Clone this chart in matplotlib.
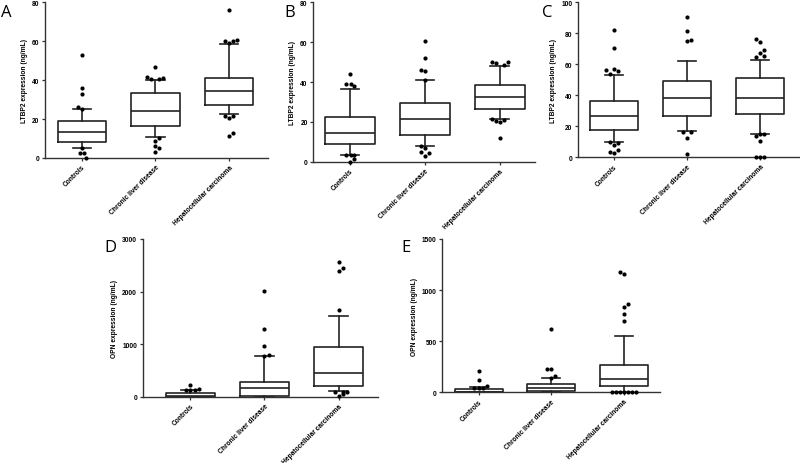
import matplotlib
matplotlib.use("Agg")
import matplotlib.pyplot as plt

plt.rcParams['font.family'] = ['Liberation Sans', 'DejaVu Sans']

categories = ["Controls", "Chronic liver disease", "Hepatocellular carcinoma"]

# ---------------- Panel A : LTBP2 ----------------
A_q1 = [8.4, 16.2, 27.4]
A_med = [13.2, 24.1, 34.2]
A_q3 = [19.1, 33.3, 41.2]
A_lo = [5.1, 10.8, 22.7]
A_hi = [25.3, 40.3, 58.5]
A_out_ctrl = [52.8, 36.1, 32.8, 26.3, 25.3, 5.0, 2.4, 2.4, 0.2]
A_dx_ctrl = [0, 0, 0, -0.055, 0, 0, -0.03, 0.03, 0.06]
A_out_cld = [47.0, 41.5, 40.5, 40.5, 41.2, 10.4, 8.9, 6.3, 5.0, 2.9]
A_dx_cld = [0, -0.11, -0.055, 0.055, 0.11, 0.055, 0, 0, 0.055, 0]
A_out_hcc = [76.1, 60.0, 59.3, 60.0, 60.7, 21.4, 20.3, 21.4, 11.5, 12.8]
A_dx_hcc = [0, -0.05, 0.005, 0.06, 0.115, -0.05, 0.005, 0.06, 0.005, 0.06]

# ---------------- Panel B : LTBP2 ----------------
B_q1 = [8.7, 13.6, 26.4]
B_med = [14.4, 21.3, 32.6]
B_q3 = [22.3, 29.6, 38.7]
B_lo = [3.3, 7.9, 21.3]
B_hi = [36.3, 41.0, 47.9]
B_out_ctrl = [44.0, 38.8, 38.8, 37.8, 3.3, 3.3, 3.3, 1.2, 0.0]
B_dx_ctrl = [0, -0.05, 0.01, 0.06, -0.05, 0.01, 0.06, 0.05, 0]
B_out_cld = [60.4, 52.2, 46.2, 45.4, 41.0, 7.8, 7.0, 4.9, 4.5, 2.7]
B_dx_cld = [0, 0, -0.05, 0, 0, -0.05, 0, -0.05, 0.05, 0]
B_out_hcc = [50.0, 49.4, 48.5, 49.9, 21.4, 20.4, 19.9, 21.1, 11.9]
B_dx_hcc = [-0.11, -0.05, 0.06, 0.115, -0.11, -0.05, 0.005, 0.06, 0]

# ---------------- Panel C : LTBP2 ----------------
C_q1 = [17.8, 26.9, 27.7]
C_med = [26.7, 38.1, 38.5]
C_q3 = [36.6, 49.2, 51.0]
C_lo = [10.1, 17.2, 15.1]
C_hi = [53.1, 62.2, 62.8]
C_out_ctrl = [81.9, 70.3, 56.3, 53.8, 56.8, 55.5, 9.7, 9.2, 8.0, 4.9, 3.4, 2.8]
C_dx_ctrl = [0, 0, -0.11, -0.055, 0, 0.06, -0.055, 0.06, 0, 0.06, -0.055, 0]
C_out_cld = [90.8, 81.7, 75.1, 75.9, 16.6, 16.6, 12.7, 1.9]
C_dx_cld = [0, 0, 0, 0.055, -0.055, 0.055, 0, 0]
C_out_hcc = [76.1, 74.2, 69.2, 67.5, 64.5, 65.6, 13.8, 15.1, 15.1, 10.8, 0.0, 0.0, 0.0]
C_dx_hcc = [-0.055, 0, 0.05, 0, -0.055, 0.05, -0.055, 0, 0.05, 0, -0.055, 0, 0.05]

# ---------------- Panel D : OPN ----------------
D_q1 = [3, 13, 209]
D_med = [6, 159, 457]
D_q3 = [72, 285, 938]
D_lo = [0, 0, 114]
D_hi = [130, 767, 1541]
D_out_ctrl = [222, 128, 122, 135, 150]
D_dx_ctrl = [0, -0.06, 0, 0.06, 0.12]
D_out_cld = [2016, 1294, 964, 799, 767]
D_dx_cld = [0, 0, 0, 0.06, 0]
D_out_hcc = [2555, 2391, 2454, 1655, 89, 89, 80, 19, 44]
D_dx_hcc = [0, 0, 0.055, 0, -0.055, 0.055, 0.11, 0, 0.055]

# ---------------- Panel E : OPN ----------------
E_q1 = [0, 10, 59]
E_med = [2, 39, 130]
E_q3 = [33, 78, 267]
E_lo = [0, 0, 0]
E_hi = [52, 137, 548]
E_out_ctrl = [205, 121, 46, 43, 43, 59]
E_dx_ctrl = [0, 0, -0.06, 0, 0.055, 0.11]
E_out_cld = [620, 225, 225, 143, 157]
E_dx_cld = [0, -0.055, 0, 0, 0.055]
E_out_hcc = [1181, 1161, 868, 832, 770, 701, 0, 0, 0, 0, 0, 0, 0]
E_dx_hcc = [-0.055, 0, 0.055, 0, 0, 0, -0.165, -0.11, -0.055, 0, 0.055, 0.11, 0.165]

W, H = 800, 464
fig = plt.figure(figsize=(W / 100, H / 100), dpi=100)
LC = '#222222'
FS = 4.8


def panel(rect_px, xlim, ylim, yticks, ylabel, letter, letter_xy,
          q1, med, q3, lo, hi, outs, dxs):
    l, t, r, b = rect_px
    ax = fig.add_axes([l / W, 1 - b / H, (r - l) / W, (b - t) / H])
    stats = []
    for i in range(3):
        stats.append(dict(q1=q1[i], med=med[i], q3=q3[i], whislo=lo[i],
                          whishi=hi[i], fliers=[]))
    lp = dict(color=LC, linewidth=1.2)
    ax.bxp(stats, positions=[1, 2, 3], widths=0.66, capwidths=0.25,
           showfliers=False, boxprops=lp, whiskerprops=lp, capprops=lp,
           medianprops=lp)
    for i in range(3):
        xs = [i + 1 + d for d in dxs[i]]
        ax.scatter(xs, outs[i], s=9, color='black', zorder=5, linewidths=0,
                   clip_on=False)
    ax.set_xlim(*xlim)
    ax.set_ylim(*ylim)
    ax.set_yticks(yticks)
    ax.set_yticklabels([str(v) for v in yticks], fontsize=FS, fontweight='bold')
    ax.set_xticks([1, 2, 3])
    ax.set_xticklabels(categories, rotation=45, ha='right',
                       rotation_mode='anchor', fontsize=FS, fontweight='bold')
    ax.set_ylabel(ylabel, fontsize=FS, fontweight='bold', labelpad=3)
    for s in ['top', 'right']:
        ax.spines[s].set_visible(False)
    for s in ['left', 'bottom']:
        ax.spines[s].set_color('#333333')
        ax.spines[s].set_linewidth(1.0)
    ax.tick_params(axis='both', length=2.5, width=0.9, color='#333333', pad=1.5)
    fig.text(letter_xy[0] / W, 1 - letter_xy[1] / H, letter, fontsize=12,
             ha='left', va='baseline', family=['Open Sans', 'DejaVu Sans'])
    return ax


lab_ltbp = "LTBP2 expression (ng/mL)"
lab_opn = "OPN expression (ng/mL)"

panel((45, 3.3, 268, 159), (0.5, 3.53), (0, 80), [0, 20, 40, 60, 80], lab_ltbp,
      "A", (1, 17),
      A_q1, A_med, A_q3, A_lo, A_hi,
      [A_out_ctrl, A_out_cld, A_out_hcc], [A_dx_ctrl, A_dx_cld, A_dx_hcc])
panel((313.3, 3.3, 535, 162.7), (0.51, 3.47), (0, 80), [0, 20, 40, 60, 80], lab_ltbp,
      "B", (284, 17),
      B_q1, B_med, B_q3, B_lo, B_hi,
      [B_out_ctrl, B_out_cld, B_out_hcc], [B_dx_ctrl, B_dx_cld, B_dx_hcc])
panel((578, 3.3, 799, 158.3), (0.51, 3.53), (0, 100), [0, 20, 40, 60, 80, 100], lab_ltbp,
      "C", (542, 17),
      C_q1, C_med, C_q3, C_lo, C_hi,
      [C_out_ctrl, C_out_cld, C_out_hcc], [C_dx_ctrl, C_dx_cld, C_dx_hcc])
panel((142.7, 240, 378, 397.7), (0.36, 3.53), (0, 3000), [0, 1000, 2000, 3000], lab_opn,
      "D", (104, 252),
      D_q1, D_med, D_q3, D_lo, D_hi,
      [D_out_ctrl, D_out_cld, D_out_hcc], [D_dx_ctrl, D_dx_cld, D_dx_hcc])
panel((442.3, 240, 660, 393.3), (0.5, 3.5), (0, 1500), [0, 500, 1000, 1500], lab_opn,
      "E", (401, 252),
      E_q1, E_med, E_q3, E_lo, E_hi,
      [E_out_ctrl, E_out_cld, E_out_hcc], [E_dx_ctrl, E_dx_cld, E_dx_hcc])

fig.savefig("out.png", dpi=100)
